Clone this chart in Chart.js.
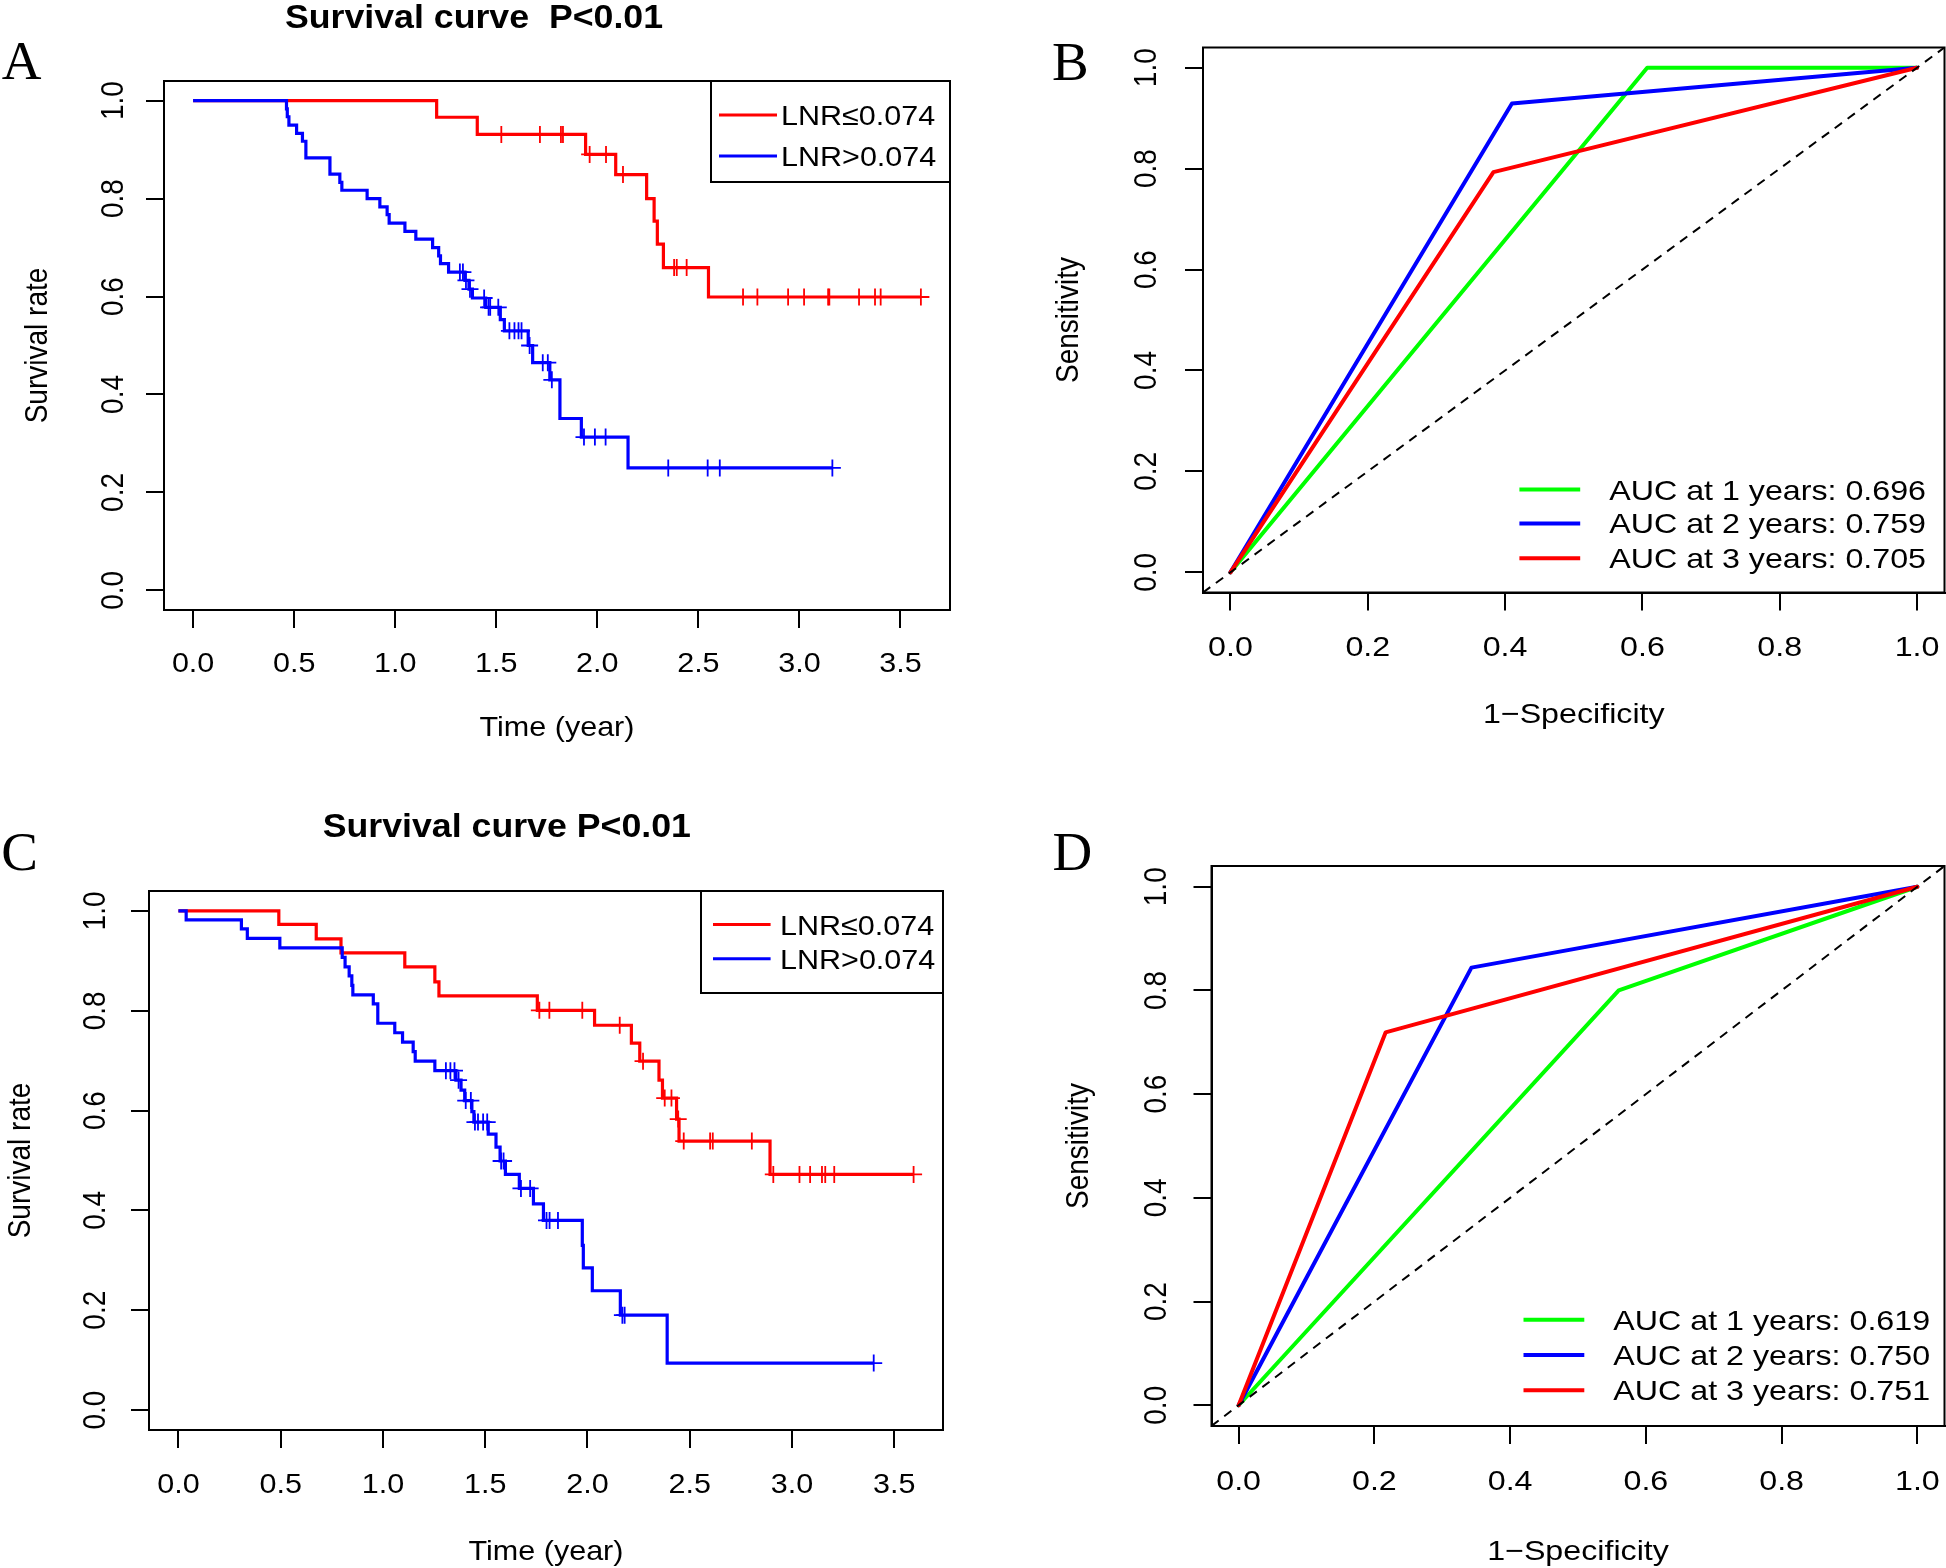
<!DOCTYPE html>
<html>
<head>
<meta charset="utf-8">
<title>Survival curves and time-dependent ROC curves by LNR</title>
<script src="https://cdn.jsdelivr.net/npm/chart.js@4.4.1/dist/chart.umd.min.js"></script>
<style>
  html, body { margin: 0; padding: 0; background: #fff; }
  #fig { position: relative; width: 1946px; height: 1568px; }
  #fig canvas { position: absolute; }
</style>
</head>
<body>
<div id="fig">
  <canvas id="panelA" width="973" height="784" style="left:0px;top:0px"></canvas>
  <canvas id="panelB" width="973" height="784" style="left:973px;top:0px"></canvas>
  <canvas id="panelC" width="973" height="784" style="left:0px;top:784px"></canvas>
  <canvas id="panelD" width="973" height="784" style="left:973px;top:784px"></canvas>
</div>
<script>
// ---- axis ticks and labels
const timeTicks = [0, 0.5, 1, 1.5, 2, 2.5, 3, 3.5];
const probTicks = [0, 0.2, 0.4, 0.6, 0.8, 1];
const groupLabels = ['LNR≤0.074', 'LNR>0.074'];

// ---- panel A: Kaplan-Meier (event times, survival after event, censor times)
const lowA_time = [1.205, 1.406, 1.942, 2.091, 2.244, 2.281, 2.297, 2.327, 2.550];
const lowA_surv = [0.966, 0.931, 0.890, 0.849, 0.800, 0.754, 0.707, 0.659, 0.599];
const lowA_cens = [1.525, 1.716, 1.820, 1.830, 1.962, 2.043, 2.127, 2.380, 2.393, 2.442,
                   2.721, 2.792, 2.944, 3.023, 3.142, 3.148, 3.295, 3.374, 3.402, 3.601];
const highA_time = [0.462, 0.466, 0.474, 0.512, 0.541, 0.558, 0.677, 0.726, 0.736, 0.861,
                    0.924, 0.960, 0.970, 1.048, 1.102, 1.185, 1.215, 1.224, 1.264, 1.345,
                    1.365, 1.382, 1.448, 1.520, 1.540, 1.658, 1.680, 1.765, 1.815, 1.921, 2.152];
const highA_surv = [0.983, 0.967, 0.950, 0.933, 0.917, 0.883, 0.850, 0.833, 0.817, 0.800,
                    0.783, 0.767, 0.750, 0.733, 0.717, 0.700, 0.683, 0.667, 0.650, 0.633,
                    0.615, 0.597, 0.578, 0.553, 0.530, 0.500, 0.465, 0.430, 0.351, 0.313, 0.250];
const highA_cens = [1.320, 1.335, 1.350, 1.370, 1.440, 1.462, 1.470, 1.510, 1.565, 1.590,
                    1.610, 1.625, 1.665, 1.730, 1.755, 1.775, 1.934, 1.988, 2.041, 2.351,
                    2.546, 2.606, 3.163];

// ---- panel C: Kaplan-Meier
const lowC_time = [0.491, 0.674, 0.795, 1.107, 1.254, 1.274, 1.755, 2.035, 2.215, 2.256,
                   2.350, 2.367, 2.436, 2.448, 2.893];
const lowC_surv = [0.973, 0.944, 0.916, 0.888, 0.858, 0.830, 0.801, 0.771, 0.735, 0.699,
                   0.661, 0.625, 0.583, 0.539, 0.472];
const lowC_cens = [1.765, 1.814, 1.975, 2.158, 2.272, 2.378, 2.411, 2.444, 2.471, 2.600,
                   2.613, 2.804, 2.909, 3.037, 3.089, 3.147, 3.163, 3.207, 3.595];
const highC_time = [0.038, 0.308, 0.337, 0.496, 0.801, 0.815, 0.835, 0.848, 0.853, 0.953,
                    0.975, 1.058, 1.096, 1.148, 1.158, 1.254, 1.357, 1.382, 1.400, 1.435,
                    1.445, 1.515, 1.553, 1.573, 1.599, 1.667, 1.736, 1.785, 1.975, 1.980,
                    2.024, 2.161, 2.390];
const highC_surv = [0.982, 0.964, 0.945, 0.926, 0.907, 0.888, 0.870, 0.851, 0.832, 0.814,
                    0.775, 0.756, 0.737, 0.718, 0.699, 0.680, 0.661, 0.641, 0.620, 0.598,
                    0.577, 0.553, 0.527, 0.499, 0.472, 0.444, 0.413, 0.380, 0.330, 0.285,
                    0.239, 0.190, 0.094];
const highC_cens = [1.308, 1.330, 1.350, 1.370, 1.405, 1.430, 1.450, 1.465, 1.490, 1.510,
                    1.578, 1.590, 1.675, 1.720, 1.800, 1.815, 1.856, 2.171, 2.182, 3.400];

// ---- panels B and D: ROC curves (1-specificity, sensitivity)
const rocLabelsB = ['AUC at 1 years: 0.696', 'AUC at 2 years: 0.759', 'AUC at 3 years: 0.705'];
const rocB1_fpr = [0, 0.607, 1], rocB1_tpr = [0, 1.000, 1];
const rocB2_fpr = [0, 0.410, 1], rocB2_tpr = [0, 0.929, 1];
const rocB3_fpr = [0, 0.383, 1], rocB3_tpr = [0, 0.793, 1];

const rocLabelsD = ['AUC at 1 years: 0.619', 'AUC at 2 years: 0.750', 'AUC at 3 years: 0.751'];
const rocD1_fpr = [0, 0.560, 1], rocD1_tpr = [0, 0.800, 1];
const rocD2_fpr = [0, 0.343, 1], rocD2_tpr = [0, 0.844, 1];
const rocD3_fpr = [0, 0.2165, 1], rocD3_tpr = [0, 0.719, 1];

const RED = '#ff0000', BLUE = '#0000ff', GREEN = '#00ff00';
const FONT = '"Liberation Sans", Arial, Helvetica, sans-serif';
const SERIF = '"Liberation Serif", "Times New Roman", serif';
const W = 973, H = 784;

// R-style axis limits: data range widened by 4%
function rLimits(lo, hi) { const d = (hi - lo) * 0.04; return [lo - d, hi + d]; }

function kmPoints(times, surv, cens) {
  const end = Math.max(times[times.length - 1], cens[cens.length - 1]);
  const pts = [{x: 0, y: 1}];
  times.forEach((t, i) => pts.push({x: t, y: surv[i]}));
  pts.push({x: end, y: surv[surv.length - 1]});
  return pts;
}
function survAt(times, surv, t) {
  let s = 1;
  for (let i = 0; i < times.length; i++) if (times[i] <= t) s = surv[i];
  return s;
}
function censorPoints(times, surv, cens) {
  return cens.map(c => ({x: c, y: survAt(times, surv, c)}));
}
function rocPoints(fpr, tpr) { return fpr.map((x, i) => ({x: x, y: tpr[i]})); }

function kmSets(groups) {
  // groups listed top-most first
  const sets = [];
  groups.forEach(g => {
    sets.push({data: censorPoints(g.t, g.s, g.c), showLine: false, pointStyle: 'cross',
               pointRadius: 8.5, pointBorderWidth: 1.8, pointBorderColor: g.color,
               borderColor: g.color, pointHoverRadius: 0});
    sets.push({data: kmPoints(g.t, g.s, g.c), stepped: 'before', borderColor: g.color,
               borderWidth: 3.2, pointRadius: 0, fill: false});
  });
  return sets;
}

function rocSets(curves, range) {
  const sets = [{data: [{x: range[0], y: range[0]}, {x: range[1], y: range[1]}],
                 borderColor: '#000', borderWidth: 2, borderDash: [9, 7], pointRadius: 0}];
  curves.forEach(c => sets.push({data: rocPoints(c.fpr, c.tpr), borderColor: c.color,
                                 borderWidth: 4, pointRadius: 0, fill: false,
                                 borderJoinStyle: 'round', borderCapStyle: 'round'}));
  return sets;
}

function drawText(ctx, s, x, y, o) {
  const size = o.size || 28;
  ctx.save();
  ctx.translate(x, y);
  ctx.scale(o.sx || 1, 1);
  if (o.rotate) ctx.rotate(-Math.PI / 2);
  ctx.font = (o.bold ? 'bold ' : '') + size + 'px ' + (o.family || FONT);
  ctx.fillStyle = '#000';
  ctx.textAlign = o.align || 'center';
  ctx.textBaseline = 'alphabetic';
  ctx.fillText(s, 0, (o.cap || 0.716) * size / 2);
  ctx.restore();
}

// draws the base-graphics look: box, tick labels, titles, legend
function rBase(p) {
  return {
    id: 'rbase',
    beforeDatasetsDraw(chart) {
      const ctx = chart.ctx, a = chart.chartArea;
      ctx.save();
      ctx.strokeStyle = '#000';
      ctx.lineWidth = 2;
      ctx.strokeRect(a.left, a.top, a.right - a.left, a.bottom - a.top);
      ctx.restore();
    },
    afterDraw(chart) {
      const ctx = chart.ctx, a = chart.chartArea;
      const xs = chart.scales.x, ys = chart.scales.y;
      xs.ticks.forEach(t => drawText(ctx, t.value.toFixed(1), xs.getPixelForValue(t.value), p.xLabelY, {sx: p.sx}));
      ys.ticks.forEach(t => drawText(ctx, t.value.toFixed(1), p.yLabelX, ys.getPixelForValue(t.value), {sx: p.sx, rotate: true}));
      drawText(ctx, p.xTitle, (a.left + a.right) / 2, p.xTitleY, {sx: p.sx});
      drawText(ctx, p.yTitle, p.yTitleX, (a.top + a.bottom) / 2, {sx: p.sx, rotate: true});
      if (p.title) drawText(ctx, p.title, p.titleX, p.titleY, {bold: true, size: 34, sx: 1.05});
      drawText(ctx, p.letter, p.letterX, p.letterY, {family: SERIF, size: 55, cap: 0.662});

      const lg = p.legend;
      ctx.save();
      if (lg.frame) {
        ctx.strokeStyle = '#000';
        ctx.lineWidth = 2;
        ctx.strokeRect(a.right - lg.frame[0], a.top, lg.frame[0], lg.frame[1]);
      }
      lg.labels.forEach((lab, i) => {
        const y = lg.rows[i];
        ctx.strokeStyle = lg.colors[i];
        ctx.lineWidth = lg.lw;
        ctx.beginPath();
        ctx.moveTo(lg.x0, y);
        ctx.lineTo(lg.x1, y);
        ctx.stroke();
        drawText(ctx, lab, lg.tx, y, {sx: p.sx, align: 'left'});
      });
      ctx.restore();
    }
  };
}

function makePanel(id, p, datasets, xRange, yRange, xTicks, yTicks) {
  const b = p.box;
  const axisBase = {
    ticks: {display: false, autoSkip: false},
    grid: {drawOnChartArea: false, drawTicks: true, tickLength: 18, color: '#000', lineWidth: 2},
    border: {display: true, color: '#000', width: 2}
  };
  return new Chart(document.getElementById(id), {
    type: 'line',
    data: {datasets: datasets},
    options: {
      responsive: false,
      animation: false,
      devicePixelRatio: 1,
      events: [],
      layout: {autoPadding: false, padding: {left: 0, top: b.top, right: W - b.right, bottom: 0}},
      plugins: {legend: {display: false}, tooltip: {enabled: false}, title: {display: false}},
      scales: {
        x: Object.assign({}, axisBase, {
          type: 'linear', min: xRange[0], max: xRange[1],
          afterBuildTicks: s => { s.ticks = xTicks.map(v => ({value: v})); },
          afterFit: s => { s.height = H - b.bottom; }
        }),
        y: Object.assign({}, axisBase, {
          type: 'linear', min: yRange[0], max: yRange[1],
          afterBuildTicks: s => { s.ticks = yTicks.map(v => ({value: v})); },
          afterFit: s => { s.width = b.left; }
        })
      }
    },
    plugins: [rBase(p)]
  });
}

const probRange = rLimits(0, 1);

// ---- A
makePanel('panelA', {
  box: {left: 164, right: 950, top: 81, bottom: 610}, sx: 1.09,
  letter: 'A', letterX: 21.5, letterY: 61,
  title: 'Survival curve  P<0.01', titleX: 474, titleY: 16,
  xTitle: 'Time (year)', xTitleY: 726, yTitle: 'Survival rate', yTitleX: 36,
  xLabelY: 662, yLabelX: 112,
  legend: {frame: [239, 101], labels: groupLabels, colors: [RED, BLUE], rows: [115, 156],
           x0: 719, x1: 777, tx: 781, lw: 3}
}, kmSets([
  {t: highA_time, s: highA_surv, c: highA_cens, color: BLUE},
  {t: lowA_time, s: lowA_surv, c: lowA_cens, color: RED}
]), rLimits(0, lowA_cens[lowA_cens.length - 1]), probRange, timeTicks, probTicks);

// ---- B
makePanel('panelB', {
  box: {left: 230, right: 971.5, top: 47.5, bottom: 592.5}, sx: 1.15,
  letter: 'B', letterX: 97.4, letterY: 61.8,
  xTitle: '1\u2212Specificity', xTitleY: 713, yTitle: 'Sensitivity', yTitleX: 93,
  xLabelY: 645.6, yLabelX: 171,
  legend: {labels: rocLabelsB, colors: [GREEN, BLUE, RED], rows: [489.5, 523.4, 558.3],
           x0: 546.4, x1: 607.2, tx: 636.2, lw: 4}
}, rocSets([
  {fpr: rocB3_fpr, tpr: rocB3_tpr, color: RED},
  {fpr: rocB2_fpr, tpr: rocB2_tpr, color: BLUE},
  {fpr: rocB1_fpr, tpr: rocB1_tpr, color: GREEN}
], probRange), probRange, probRange, probTicks, probTicks);

// ---- C
makePanel('panelC', {
  box: {left: 149, right: 943, top: 107, bottom: 646}, sx: 1.09,
  letter: 'C', letterX: 19.5, letterY: 67.7,
  title: 'Survival curve P<0.01', titleX: 506.8, titleY: 41,
  xTitle: 'Time (year)', xTitleY: 766, yTitle: 'Survival rate', yTitleX: 18.6,
  xLabelY: 699, yLabelX: 94.5,
  legend: {frame: [242, 102], labels: groupLabels, colors: [RED, BLUE], rows: [140.5, 174.8],
           x0: 713, x1: 770.6, tx: 780, lw: 3}
}, kmSets([
  {t: highC_time, s: highC_surv, c: highC_cens, color: BLUE},
  {t: lowC_time, s: lowC_surv, c: lowC_cens, color: RED}
]), rLimits(0, lowC_cens[lowC_cens.length - 1]), probRange, timeTicks, probTicks);

// ---- D
makePanel('panelD', {
  box: {left: 238.5, right: 971.5, top: 82, bottom: 642}, sx: 1.15,
  letter: 'D', letterX: 99.4, letterY: 67.7,
  xTitle: '1\u2212Specificity', xTitleY: 766, yTitle: 'Sensitivity', yTitleX: 103.5,
  xLabelY: 696, yLabelX: 181.5,
  legend: {labels: rocLabelsD, colors: [GREEN, BLUE, RED], rows: [535.8, 571, 606.3],
           x0: 550.5, x1: 611.3, tx: 640.3, lw: 4}
}, rocSets([
  {fpr: rocD3_fpr, tpr: rocD3_tpr, color: RED},
  {fpr: rocD2_fpr, tpr: rocD2_tpr, color: BLUE},
  {fpr: rocD1_fpr, tpr: rocD1_tpr, color: GREEN}
], probRange), probRange, probRange, probTicks, probTicks);
</script>
</body>
</html>
